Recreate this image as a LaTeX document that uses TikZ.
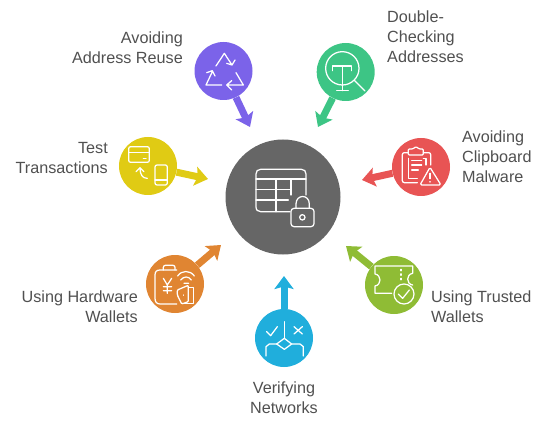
\documentclass[tikz,border=0pt]{standalone}
\usepackage{fontspec}
\setmainfont{Liberation Sans}
\usetikzlibrary{arrows.meta}
\definecolor{cpurple}{HTML}{7B63E9}
\definecolor{cgreen}{HTML}{3DC585}
\definecolor{cred}{HTML}{E85454}
\definecolor{clime}{HTML}{8FBC35}
\definecolor{cyellow}{HTML}{E0CB14}
\definecolor{corange}{HTML}{E08532}
\definecolor{cblue}{HTML}{20AEDC}
\definecolor{cgray}{HTML}{666666}
\definecolor{ctext}{HTML}{505050}
\tikzset{
 x=1pt,y=-1pt,
 hub/.style={circle,fill=cgray,minimum size=115pt,inner sep=0pt},
 spot/.style={circle,fill=#1,minimum size=58pt,inner sep=0pt},
 link/.style={draw=#1,line width=7pt,-{Stealth[width=19pt,length=13pt,inset=2.5pt]}},
 lab/.style={text=ctext,font=\fontsize{16.2}{20}\selectfont,inner sep=0pt},
 icon/.style={draw=white,line width=1.25pt,line cap=round,line join=round,fill=none},
}
\begin{document}
\begin{tikzpicture}
\useasboundingbox (0,0) rectangle (550,428);
% tips
\coordinate (ta) at (250,127);
\coordinate (tb) at (318,127);
\coordinate (tc) at (362,180);
\coordinate (td) at (346,246);
\coordinate (te) at (284,276);
\coordinate (tf) at (221,245);
\coordinate (tg) at (208,179);
% nodes
\node[hub] (hub) at (283,197) {};
\node[spot=cpurple] (a) at (223.5,71) {};
\node[spot=cgreen] (b) at (345.7,72) {};
\node[spot=cred] (c) at (421,167) {};
\node[spot=clime] (d) at (394,285) {};
\node[spot=cblue] (e) at (284,338) {};
\node[spot=corange] (f) at (175,284) {};
\node[spot=cyellow] (g) at (148,166) {};
% connectors
\draw[link=cpurple] (a) -- (ta);
\draw[link=cgreen] (b) -- (tb);
\draw[link=cred] (c) -- (tc);
\draw[link=clime] (d) -- (td);
\draw[link=cblue] (e) -- (te);
\draw[link=corange] (f) -- (tf);
\draw[link=cyellow] (g) -- (tg);
% labels
\node[lab,align=right,anchor=east] (la) at (183,48) {Avoiding\\Address Reuse};
\node[lab,align=left,anchor=west] (lb) at (387,37) {Double-\\Checking\\Addresses};
\node[lab,align=left,anchor=west] (lc) at (462,157) {Avoiding\\Clipboard\\Malware};
\node[lab,align=left,anchor=west] (ld) at (431,307) {Using Trusted\\Wallets};
\node[lab,align=center] (le) at (284,398) {Verifying\\Networks};
\node[lab,align=right,anchor=east] (lf) at (138,307) {Using Hardware\\Wallets};
\node[lab,align=right,anchor=east] (lg) at (108,158) {Test\\Transactions};
% hub icon
\begin{scope}[shift={(210,130)},scale=1/3]
\draw[icon] (240,245) -- (152,245) .. controls (143,245) and (138,240) .. (138,230) -- (138,132) .. controls (138,123) and (143,118) .. (152,118) -- (274,118) .. controls (283,118) and (288,123) .. (288,132) -- (288,195);
\draw[icon] (138,147) -- (288,147) (138,178) -- (240,178) (138,210) -- (235,210) (198,147) -- (198,245) (243,147) -- (243,195);
\draw[icon,rounded corners=3pt] (243,235) rectangle (312,290);
\draw[icon] (258,235) -- (258,222) .. controls (258,192) and (298,192) .. (298,222) -- (298,235);
\draw[icon] (277,262) circle[radius=8pt];
\end{scope}
% purple icon
\begin{scope}[shift={(180,30)},scale=1/3]
\draw[icon] (108,108) -- (133,70) -- (156,105) (140,100) -- (156,105) -- (165,90);
\draw[icon] (125,165) -- (78,165) -- (97,125) (80,128) -- (97,122) -- (105,138);
\draw[icon] (168,128) -- (190,165) -- (140,165) (155,152) -- (140,165) -- (155,180);
\end{scope}
% green icon
\begin{scope}[shift={(180,30)},scale=1/3]
\draw[icon] (487,115) circle[radius=50pt];
\draw[icon] (522,150) -- (555,183);
\draw[icon] (458,122) -- (458,108) -- (515,108) -- (515,122) (487,108) -- (487,182) (470,182) -- (505,182);
\end{scope}
% red icon
\begin{scope}[shift={(340,130)},scale=1/3]
\draw[icon,rounded corners=2pt] (232,158) -- (187,158) -- (187,68) -- (205,68);
\draw[icon,rounded corners=2pt] (250,68) -- (272,68) -- (272,105);
\draw[icon,rounded corners=1pt] (205,75) -- (205,57) -- (218,57) -- (228,50) -- (238,57) -- (250,57) -- (250,75) -- cycle;
\draw[icon] (205,85) -- (205,145) -- (232,145) (250,85) -- (258,85) -- (258,105);
\draw[icon] (215,92) -- (245,92) (215,105) -- (245,105) (215,120) -- (235,120);
\draw[icon,rounded corners=1.5pt] (270,112) -- (303,165) -- (240,165) -- cycle;
\draw[icon] (270,130) -- (270,146) (270,155) -- (270,156);
\end{scope}
% lime icon
\begin{scope}[shift={(340,130)},scale=1/3]
\draw[icon] (155,490) -- (105,490) -- (105,468) .. controls (125,465) and (125,435) .. (105,432) -- (105,408) -- (218,408) -- (218,430) .. controls (198,433) and (198,462) .. (218,465);
\draw[icon,dash pattern=on 1.5pt off 3pt] (183,418) -- (183,452);
\draw[icon] (192,492) circle[radius=30pt];
\draw[icon] (175,492) -- (188,505) -- (208,480);
\end{scope}
% yellow icon
\begin{scope}[shift={(110,130)},scale=1/3]
\draw[icon,rounded corners=2pt] (56,50) rectangle (118,97);
\draw[icon] (56,67) -- (118,67) (100,85) -- (108,85);
\draw[icon,rounded corners=2pt] (135,105) rectangle (172,165);
\draw[icon] (135,150) -- (172,150);
\draw[icon] (112,145) .. controls (98,145) and (90,135) .. (90,114) (78,125) -- (90,113) -- (102,125);
\end{scope}
% orange icon
\begin{scope}[shift={(110,130)},scale=1/3]
\draw[icon] (200,522) -- (150,522) .. controls (140,522) and (135,515) .. (135,505) -- (135,435) .. controls (135,425) and (140,420) .. (150,420) -- (200,420);
\draw[icon,rounded corners=2pt] (160,420) -- (160,406) -- (195,406) -- (195,420);
\draw[icon] (160,445) -- (172,465) -- (185,445) (172,465) -- (172,490) (160,470) -- (185,470) (160,482) -- (185,482);
\draw[icon] (203,438) .. controls (215,420) and (240,420) .. (253,438) (212,450) .. controls (222,438) and (235,438) .. (244,450) (222,460) -- (236,460);
\draw[icon,rounded corners=1pt] (202,480) -- (235,466) -- (235,515) -- (215,522) -- (202,495) -- cycle;
\draw[icon] (235,472) -- (250,472) -- (250,520) -- (218,520);
\draw[icon] (220,495) -- (220,496);
\end{scope}
% blue icon
\begin{scope}[shift={(240,270)},scale=1/3]
\draw[icon] (133,155) -- (133,205);
\draw[icon] (80,185) -- (92,197) -- (112,170);
\draw[icon] (162,170) -- (187,192) (187,170) -- (162,192);
\draw[icon] (133,205) -- (155,222) -- (133,238) -- (110,222) -- cycle;
\draw[icon] (110,222) -- (88,222) -- (78,230) -- (78,258) (155,222) -- (180,222) -- (190,230) -- (190,258);
\end{scope}
\end{tikzpicture}
\end{document}
